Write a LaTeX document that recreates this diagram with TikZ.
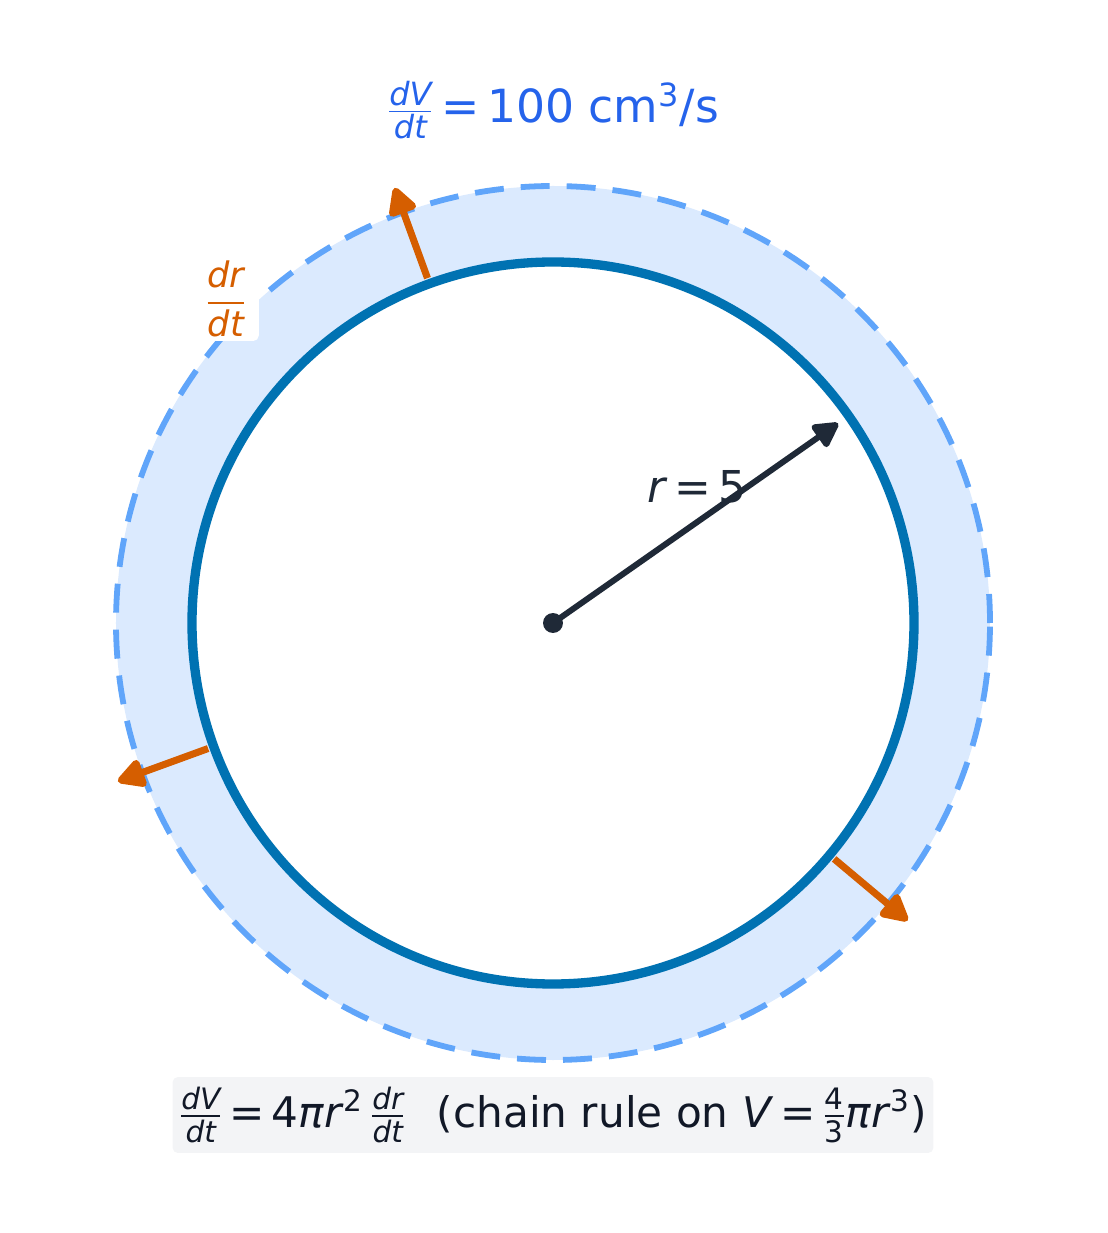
\documentclass[tikz,border=0pt]{standalone}
\usepackage{amsmath}
\usepackage{fontspec}
\setmainfont{DejaVu Sans}
\usepackage{tikz}
\usetikzlibrary{arrows.meta, positioning}

\definecolor{shellfill}{HTML}{DBEAFE}
\definecolor{shellline}{HTML}{60A5FA}
\definecolor{sphereline}{HTML}{0072B2}
\definecolor{growcol}{HTML}{D55E00}
\definecolor{ink}{HTML}{1F2937}
\definecolor{ratecol}{HTML}{2563EB}
\definecolor{boxfill}{HTML}{F3F4F6}
\definecolor{boxtext}{HTML}{111827}

\newcommand{\tfr}[2]{$\frac{\textit{#1}}{\textit{#2}}$}
\newcommand{\bigfr}[2]{$\dfrac{\textit{#1}}{\textit{#2}}$}

\begin{document}
\begin{tikzpicture}[x=0.02cm, y=0.02cm]
	% Define style
	\tikzset{
		shell/.style={draw=shellline, line width=3.3pt, dash pattern=on 0.58cm off 0.34cm, fill=shellfill},
		sphere/.style={draw=sphereline, line width=5.3pt, fill=white},
		growarrow/.style={draw=growcol, line width=4pt, -{Triangle[length=0.62cm, width=0.62cm, round]}},
		radarrow/.style={draw=ink, line width=3.4pt, -{Triangle[length=0.56cm, width=0.58cm, round]}},
		txt/.style={font=\fontsize{24}{29}\selectfont, inner sep=0pt}
	}
	\useasboundingbox (-553,-610) rectangle (555,623);

	% Define circles
	\path[shell] (0,0) circle (437);
	\path[sphere] (0,0) circle (361);

	% Define points
	\node (ctr) [circle, fill=ink, inner sep=0pt, minimum size=0.4cm] at (0,0) {};
	\coordinate (tip) at (35:348);
	\coordinate (ina) at (110:367);
	\coordinate (outa) at (110:463);
	\coordinate (inb) at (200:367);
	\coordinate (outb) at (200:463);
	\coordinate (inc) at (320:367);
	\coordinate (outc) at (320:463);

	% Define labels
	\node (rate) [txt, text=ratecol, font=\fontsize{26}{31}\selectfont] at (0,513) {\tfr{dV}{dt}\,=\,100 cm\textsuperscript{3}/s};
	\node (rlab) [txt, text=ink, font=\fontsize{25}{30}\selectfont] at (144,136) {\textit{r}\,=\,5};
	\node (drdt) [fill=white, rounded corners=3pt, text=growcol, inner xsep=7pt, inner ysep=2pt, font=\fontsize{20}{24}\selectfont] at (-327,324) {\bigfr{dr}{dt}};
	\node (law) [txt, text=boxtext, fill=boxfill, rounded corners=3pt, minimum width=15.22cm, minimum height=1.52cm] at (0,-492)
		{\tfr{dV}{dt}\,=\,4\textit{πr}\textsuperscript{2}\,\tfr{dr}{dt}\hspace{0.75em}(chain rule on \textit{V}\,=\,$\frac{\text{4}}{\text{3}}$\textit{πr}\textsuperscript{3})};

	% Define arrows
	\draw [radarrow] (ctr.center) -- (tip);
	\draw [growarrow] (ina) -- (outa);
	\draw [growarrow] (inb) -- (outb);
	\draw [growarrow] (inc) -- (outc);
\end{tikzpicture}
\end{document}
